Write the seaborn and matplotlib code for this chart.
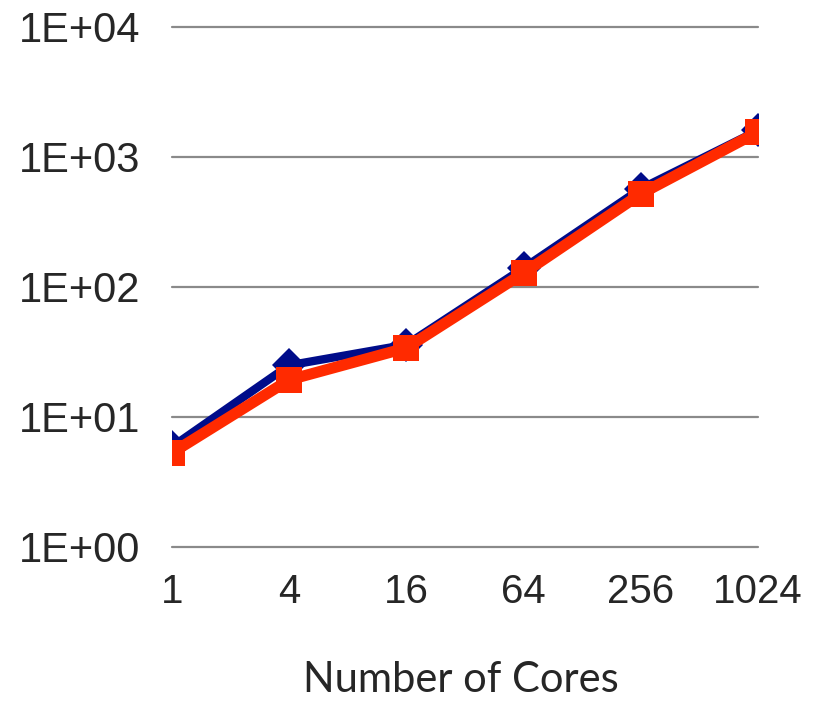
import matplotlib
matplotlib.use("Agg")
import matplotlib.pyplot as plt
import seaborn as sns
import pandas as pd

# data
cores = [1, 4, 16, 64, 256, 1024]
series_blue = [5.9, 25, 36, 140, 570, 1600]
series_red = [5.3, 19.3, 34, 128, 520, 1560]
ytick_vals = [1, 10, 100, 1000, 10000]
ytick_labels = ["1E+00", "1E+01", "1E+02", "1E+03", "1E+04"]

sns.set_style("white")
plt.rcParams['font.family'] = ['Liberation Sans', 'DejaVu Sans']

df_blue = pd.DataFrame({"cores": cores, "value": series_blue})
df_red = pd.DataFrame({"cores": cores, "value": series_red})

fig = plt.figure(figsize=(8.17, 7.05), dpi=100)
ax = fig.add_axes([172 / 817, 158 / 705, (758 - 172) / 817, (678 - 158) / 705])

sns.lineplot(data=df_blue, x="cores", y="value", ax=ax, color="#000c8a",
             linewidth=6, marker="D", markersize=17, markeredgewidth=0,
             zorder=3)
sns.lineplot(data=df_red, x="cores", y="value", ax=ax, color="#ff2a00",
             linewidth=8, marker="s", markersize=19, markeredgewidth=0,
             zorder=4)

ax.set_xscale("log", base=2)
ax.set_yscale("log")
ax.set_xlim(1, 1024)
ax.set_ylim(1, 10000)
ax.set_xticks(cores)
ax.set_xticklabels([str(c) for c in cores])
ax.set_yticks(ytick_vals)
ax.set_yticklabels(ytick_labels)
ax.minorticks_off()
ax.tick_params(axis="x", length=0, labelsize=29, pad=19)
ax.tick_params(axis="y", length=0, labelsize=30, pad=23)

ax.grid(False)
for v in ytick_vals:
    ax.axhline(v, color="#8a8a8a", linewidth=1.6, zorder=1, clip_on=False)

for s in ax.spines.values():
    s.set_visible(False)

ax.set_xlabel("")
ax.set_ylabel("")

fig.text(461 / 817, 6 / 705, "Number of Cores", ha="center",
         va="bottom", fontsize=30, family=["Lato", "DejaVu Sans"])

fig.savefig("out.png", dpi=100)
